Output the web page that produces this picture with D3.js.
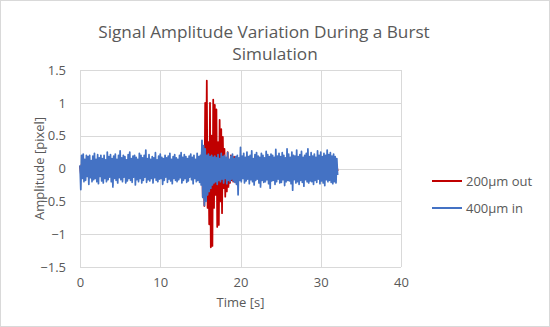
<!DOCTYPE html>
<html>
<head>
<meta charset="utf-8">
<script src="https://cdn.jsdelivr.net/npm/d3@7"></script>
<style>
  body { margin: 0; background: #fff; }
  text { font-family: "Open Sans", "Noto Sans", sans-serif; fill: #595959; }
</style>
</head>
<body>
<div id="chart"></div>
<script>
// sample spacing of both series, seconds
const dt = 0.1;

// 400µm in, one row per second (0.0 .. 32.1 s)
const blueValues = [
  0.05,-0.32,0.2,-0.15,0.22,-0.2,0.14,-0.18,0.2,-0.12,
  0.18,-0.24,0.2,-0.14,0.12,-0.2,0.19,-0.17,0.23,-0.15,
  0.14,-0.2,0.21,-0.23,0.16,-0.12,0.2,-0.19,0.15,-0.22,
  0.2,-0.15,0.13,-0.2,0.25,-0.17,0.18,-0.13,0.21,-0.2,
  0.15,-0.28,0.19,-0.15,0.22,-0.18,0.14,-0.22,0.2,-0.14,
  0.27,-0.17,0.16,-0.2,0.2,-0.13,0.18,-0.22,0.13,-0.19,
  0.21,-0.15,0.25,-0.18,0.15,-0.21,0.19,-0.13,0.2,-0.25,
  0.17,-0.17,0.14,-0.2,0.23,-0.15,0.2,-0.22,0.16,-0.18,
  0.2,-0.13,0.28,-0.21,0.15,-0.17,0.21,-0.19,0.14,-0.15,
  0.18,-0.22,0.16,-0.14,0.24,-0.18,0.13,-0.2,0.19,-0.16,
  0.22,-0.15,0.17,-0.24,0.15,-0.18,0.2,-0.13,0.16,-0.21,
  0.19,-0.16,0.23,-0.19,0.14,-0.23,0.18,-0.15,0.21,-0.18,
  0.16,-0.2,0.14,-0.17,0.2,-0.14,0.24,-0.22,0.17,-0.18,
  0.21,-0.15,0.18,-0.21,0.15,-0.19,0.19,-0.13,0.22,-0.17,
  0.17,-0.23,0.2,-0.15,0.14,-0.2,0.23,-0.18,0.18,-0.21,
  0.2,-0.25,0.43,-0.44,0.35,-0.56,0.3,-0.5,0.2,-0.4,
  0.22,-0.35,0.18,-0.3,0.2,-0.25,0.17,-0.22,0.19,-0.2,
  0.16,-0.24,0.21,-0.18,0.15,-0.2,0.23,-0.16,0.18,-0.22,
  0.2,-0.15,0.17,-0.23,0.24,-0.18,0.14,-0.2,0.19,-0.16,
  0.22,-0.19,0.15,-0.21,0.18,-0.24,0.2,-0.4,0.16,-0.18,
  0.32,-0.2,0.19,-0.15,0.23,-0.22,0.17,-0.19,0.25,-0.16,
  0.18,-0.23,0.2,-0.17,0.27,-0.2,0.15,-0.25,0.21,-0.18,
  0.24,-0.16,0.19,-0.22,0.17,-0.28,0.23,-0.18,0.2,-0.21,
  0.16,-0.2,0.26,-0.17,0.21,-0.23,0.18,-0.3,0.22,-0.19,
  0.2,-0.18,0.17,-0.24,0.29,-0.2,0.19,-0.16,0.23,-0.22,
  0.18,-0.21,0.24,-0.17,0.2,-0.26,0.16,-0.2,0.3,-0.18,
  0.22,-0.19,0.17,-0.23,0.25,-0.33,0.2,-0.17,0.19,-0.22,
  0.28,-0.2,0.18,-0.24,0.21,-0.18,0.26,-0.21,0.17,-0.27,
  0.2,-0.17,0.23,-0.2,0.3,-0.22,0.18,-0.19,0.24,-0.2,
  0.19,-0.24,0.22,-0.18,0.17,-0.21,0.27,-0.16,0.2,-0.23,
  0.25,-0.19,0.18,-0.22,0.23,-0.26,0.2,-0.17,0.28,-0.2,
  0.21,-0.18,0.24,-0.21,0.19,-0.23,0.22,-0.2,0.18,-0.22,
  0.15,-0.1
];

// 200µm out, same sampling; only the burst shows above the blue band
const redValues = [
  0.04,-0.08,0.06,-0.05,0.07,-0.09,0.05,-0.06,0.08,-0.04,
  0.06,-0.07,0.05,-0.08,0.04,-0.06,0.07,-0.05,0.06,-0.07,
  0.05,-0.06,0.08,-0.05,0.06,-0.04,0.07,-0.08,0.05,-0.06,
  0.07,-0.05,0.04,-0.07,0.06,-0.08,0.05,-0.06,0.07,-0.05,
  0.06,-0.08,0.05,-0.06,0.07,-0.04,0.06,-0.07,0.05,-0.06,
  0.08,-0.05,0.06,-0.07,0.04,-0.06,0.05,-0.08,0.07,-0.05,
  0.05,-0.06,0.07,-0.05,0.06,-0.08,0.04,-0.06,0.07,-0.05,
  0.06,-0.07,0.05,-0.06,0.08,-0.05,0.06,-0.04,0.07,-0.06,
  0.05,-0.08,0.06,-0.05,0.07,-0.06,0.04,-0.07,0.06,-0.05,
  0.07,-0.05,0.06,-0.08,0.05,-0.06,0.07,-0.04,0.06,-0.07,
  0.05,-0.06,0.08,-0.05,0.06,-0.07,0.05,-0.06,0.04,-0.08,
  0.06,-0.05,0.07,-0.06,0.05,-0.08,0.06,-0.05,0.07,-0.06,
  0.04,-0.07,0.06,-0.05,0.08,-0.06,0.05,-0.07,0.06,-0.05,
  0.07,-0.06,0.05,-0.08,0.06,-0.05,0.07,-0.04,0.06,-0.07,
  0.05,-0.08,0.07,-0.06,0.1,-0.12,0.08,-0.1,0.12,-0.15,
  0.1,-0.2,0.35,-0.43,0.2,-0.57,1.0,-0.3,1.34,-0.6,
  0.4,-0.85,1.0,-1.2,0.5,-1.18,1.05,-0.6,0.97,-0.4,
  0.9,-0.89,0.4,-0.86,0.74,-0.5,0.6,-0.68,0.48,-0.3,
  0.3,-0.43,0.15,-0.35,0.25,-0.28,0.12,-0.22,0.2,-0.18,
  0.1,-0.2,0.18,-0.12,0.15,-0.22,0.1,-0.15,0.12,-0.14,
  0.1,-0.12,0.08,-0.1,0.09,-0.07,0.06,-0.08,0.07,-0.06,
  0.05,-0.07,0.06,-0.05,0.08,-0.06,0.05,-0.07,0.06,-0.05,
  0.07,-0.06,0.05,-0.08,0.06,-0.05,0.07,-0.06,0.04,-0.07,
  0.06,-0.05,0.07,-0.06,0.05,-0.08,0.06,-0.05,0.07,-0.06,
  0.05,-0.07,0.06,-0.05,0.08,-0.06,0.05,-0.07,0.06,-0.05,
  0.07,-0.06,0.05,-0.08,0.06,-0.05,0.07,-0.06,0.04,-0.07,
  0.06,-0.05,0.07,-0.06,0.05,-0.08,0.06,-0.05,0.07,-0.06,
  0.05,-0.07,0.06,-0.05,0.08,-0.06,0.05,-0.07,0.06,-0.05,
  0.07,-0.06,0.05,-0.08,0.06,-0.05,0.07,-0.06,0.04,-0.07,
  0.06,-0.05,0.07,-0.06,0.05,-0.08,0.06,-0.05,0.07,-0.06,
  0.05,-0.07,0.06,-0.05,0.08,-0.06,0.05,-0.07,0.06,-0.05,
  0.07,-0.06,0.05,-0.08,0.06,-0.05,0.07,-0.06,0.04,-0.07,
  0.05,-0.04
];

const xTicks = [0, 10, 20, 30, 40];
const yTicks = [-1.5, -1, -0.5, 0, 0.5, 1, 1.5];
const seriesNames = ["200µm out", "400µm in"];
const seriesColors = ["#c00000", "#4472c4"];

const width = 550, height = 327;
const plotLeft = 80, plotRight = 401, plotTop = 70, plotBottom = 267;

const svg = d3.select("#chart").append("svg")
  .attr("width", width)
  .attr("height", height);

svg.append("rect")
  .attr("x", 0.5).attr("y", 0.5)
  .attr("width", width - 1).attr("height", height - 1)
  .attr("fill", "#fff")
  .attr("stroke", "#d9d9d9");

const x = d3.scaleLinear().domain([0, 40]).range([plotLeft, plotRight]);
const y = d3.scaleLinear().domain([-1.5, 1.5]).range([plotBottom, plotTop]);

// gridlines
svg.append("g").selectAll("line")
  .data(yTicks).enter().append("line")
  .attr("x1", plotLeft).attr("x2", plotRight)
  .attr("y1", d => Math.round(y(d)) + 0.5)
  .attr("y2", d => Math.round(y(d)) + 0.5)
  .attr("stroke", "#d9d9d9");

svg.append("g").selectAll("line")
  .data(xTicks).enter().append("line")
  .attr("x1", d => Math.round(x(d)) + 0.5)
  .attr("x2", d => Math.round(x(d)) + 0.5)
  .attr("y1", plotTop).attr("y2", plotBottom)
  .attr("stroke", "#d9d9d9");

// axes, labels only
const xAxis = svg.append("g")
  .attr("transform", "translate(0," + plotBottom + ")")
  .call(d3.axisBottom(x).tickValues(xTicks).tickSize(0).tickPadding(11));
const yAxis = svg.append("g")
  .attr("transform", "translate(" + plotLeft + ",0)")
  .call(d3.axisLeft(y).tickValues(yTicks).tickSize(0).tickPadding(14).tickFormat(d3.format("")));
[xAxis, yAxis].forEach(a => {
  a.select(".domain").remove();
  a.selectAll("text").attr("font-size", 13).attr("fill", "#595959")
    .style("font-family", '"Open Sans", sans-serif');
});

// series, blue drawn over red
const line = d3.line()
  .x((d, i) => x(i * dt))
  .y(d => y(d));

[redValues, blueValues].forEach((vals, k) => {
  svg.append("path")
    .datum(vals)
    .attr("fill", "none")
    .attr("stroke", seriesColors[k])
    .attr("stroke-width", 1.75)
    .attr("stroke-linejoin", "round")
    .attr("d", line);
});

// title
svg.append("text")
  .attr("x", 264).attr("y", 38)
  .attr("text-anchor", "middle")
  .attr("font-size", 17.2)
  .text("Signal Amplitude Variation During a Burst");
svg.append("text")
  .attr("x", 275).attr("y", 60)
  .attr("text-anchor", "middle")
  .attr("font-size", 17.2)
  .text("Simulation");

// axis titles
svg.append("text")
  .attr("x", (plotLeft + plotRight) / 2).attr("y", 307)
  .attr("text-anchor", "middle")
  .attr("font-size", 13)
  .text("Time [s]");
svg.append("text")
  .attr("transform", "translate(44," + (plotTop + plotBottom) / 2 + ") rotate(-90)")
  .attr("text-anchor", "middle")
  .attr("font-size", 13)
  .text("Amplitude [pixel]");

// legend
const legend = svg.append("g").selectAll("g")
  .data(seriesNames).enter().append("g")
  .attr("transform", (d, i) => "translate(432," + (181 + i * 27) + ")");
legend.append("line")
  .attr("x1", 0).attr("x2", 30)
  .attr("stroke", (d, i) => seriesColors[i])
  .attr("stroke-width", 2);
legend.append("text")
  .attr("x", 34).attr("y", 5)
  .attr("font-size", 13)
  .text(d => d);
</script>
</body>
</html>
